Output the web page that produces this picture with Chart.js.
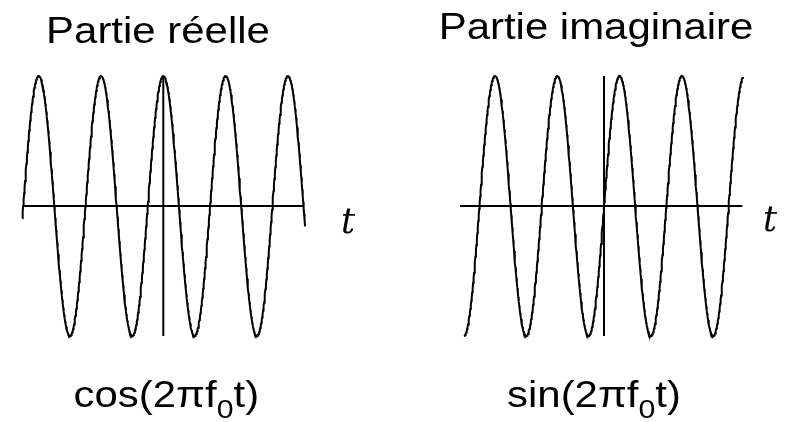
<!DOCTYPE html>
<html>
<head>
<meta charset="utf-8">
<script src="https://cdn.jsdelivr.net/npm/chart.js@4"></script>
<style>
  html, body { margin: 0; padding: 0; background: #fff; }
  #wrap { position: relative; width: 786px; height: 422px; }
</style>
</head>
<body>
<div id="wrap"><canvas id="c" width="786" height="422"></canvas></div>
<script>
// A complex exponential at frequency f0, shown as its real and imaginary parts.
const F0 = 1;                        // one period per unit of t
const REAL_SPAN = [-2.265, 2.275];   // t range of the cosine trace
const IMAG_SPAN = [-2.25, 2.23];     // t range of the sine trace
const REAL_T_AXIS = [-2.25, 2.26];   // extent of the t axis, left panel
const IMAG_T_AXIS = [-2.31, 2.22];   // extent of the t axis, right panel
const AMPLITUDE = [-1, 1];           // extent of the vertical axis
const STEPS = 600;

const PANEL_TITLES = ['Partie réelle', 'Partie imaginaire'];
const PANEL_FORMULAS = [['cos(2πf', '0', 't)'], ['sin(2πf', '0', 't)']];
const AXIS_NAME = 't';

// Page geometry (pixels)
const W = 786, H = 422;
const PX_PER_T = 62.3;
const REAL_ORIGIN_X = 163.3;
const IMAG_ORIGIN_X = 604;
const ORIGIN_Y = 206;
const PX_PER_UNIT = 130;

function trace(fn, span) {
  const pts = [];
  for (let i = 0; i <= STEPS; i++) {
    const t = span[0] + (span[1] - span[0]) * i / STEPS;
    pts.push({ x: t, y: fn(2 * Math.PI * F0 * t) });
  }
  return pts;
}

const ink = { borderColor: '#000', borderWidth: 2, pointRadius: 0, showLine: true, tension: 0, fill: false };

const datasets = [
  Object.assign({ label: 'cos', xAxisID: 'xr', data: trace(Math.cos, REAL_SPAN) }, ink),
  Object.assign({ label: 'axe t (réel)', xAxisID: 'xr', data: REAL_T_AXIS.map(t => ({ x: t, y: 0 })) }, ink),
  Object.assign({ label: 'axe vertical (réel)', xAxisID: 'xr', data: AMPLITUDE.map(v => ({ x: 0, y: v })) }, ink),
  Object.assign({ label: 'sin', xAxisID: 'xi', data: trace(Math.sin, IMAG_SPAN) }, ink),
  Object.assign({ label: 'axe t (imaginaire)', xAxisID: 'xi', data: IMAG_T_AXIS.map(t => ({ x: t, y: 0 })) }, ink),
  Object.assign({ label: 'axe vertical (imaginaire)', xAxisID: 'xi', data: AMPLITUDE.map(v => ({ x: 0, y: v })) }, ink)
];

// Text placement: centre x, baseline y
const TITLE_POS = [{ cx: 158, y: 43.3 }, { cx: 596, y: 38.5 }];
const FORMULA_POS = [{ cx: 166.3, y: 407 }, { cx: 594, y: 407 }];
const AXIS_NAME_POS = [{ cx: 348, y: 233 }, { cx: 770, y: 231 }];

const SANS = '"Liberation Sans", Arial, sans-serif';
const TITLE_FONT = '36px ' + SANS;
const FORMULA_FONT = '36px ' + SANS;
const SUB_FONT = '26px ' + SANS;
const SUB_DROP = 11;
const STRETCH = 1.165;
const AXIS_FONT = 'italic 35px "DejaVu Serif", serif';

const textPlugin = {
  id: 'panelText',
  afterDraw(chart) {
    const ctx = chart.ctx;
    ctx.save();
    ctx.fillStyle = '#000';
    ctx.textBaseline = 'alphabetic';
    ctx.textAlign = 'left';

    PANEL_TITLES.forEach((txt, i) => {
      const p = TITLE_POS[i];
      ctx.font = TITLE_FONT;
      const w = ctx.measureText(txt).width;
      ctx.save();
      ctx.translate(p.cx, p.y);
      ctx.scale(STRETCH, 1);
      ctx.fillText(txt, -w / 2, 0);
      ctx.restore();
    });

    PANEL_FORMULAS.forEach((parts, i) => {
      const p = FORMULA_POS[i];
      const [pre, sub, post] = parts;
      ctx.font = FORMULA_FONT;
      const wPre = ctx.measureText(pre).width;
      const wPost = ctx.measureText(post).width;
      ctx.font = SUB_FONT;
      const wSub = ctx.measureText(sub).width;
      const w = wPre + wSub + wPost;
      ctx.save();
      ctx.translate(p.cx, p.y);
      ctx.scale(STRETCH, 1);
      let x = -w / 2;
      ctx.font = FORMULA_FONT;
      ctx.fillText(pre, x, 0);
      x += wPre;
      ctx.font = SUB_FONT;
      ctx.fillText(sub, x, SUB_DROP);
      x += wSub;
      ctx.font = FORMULA_FONT;
      ctx.fillText(post, x, 0);
      ctx.restore();
    });

    ctx.font = AXIS_FONT;
    ctx.textAlign = 'center';
    AXIS_NAME_POS.forEach(p => ctx.fillText(AXIS_NAME, p.cx, p.y));
    ctx.restore();
  }
};

new Chart(document.getElementById('c'), {
  type: 'scatter',
  data: { datasets },
  options: {
    responsive: false,
    animation: false,
    events: [],
    layout: { padding: 0 },
    plugins: { legend: { display: false }, tooltip: { enabled: false }, title: { display: false } },
    scales: {
      xr: { type: 'linear', axis: 'x', display: false,
            min: -REAL_ORIGIN_X / PX_PER_T, max: (W - REAL_ORIGIN_X) / PX_PER_T },
      xi: { type: 'linear', axis: 'x', display: false,
            min: -IMAG_ORIGIN_X / PX_PER_T, max: (W - IMAG_ORIGIN_X) / PX_PER_T },
      y:  { type: 'linear', display: false,
            min: (ORIGIN_Y - H) / PX_PER_UNIT, max: ORIGIN_Y / PX_PER_UNIT }
    }
  },
  plugins: [textPlugin]
});
</script>
</body>
</html>
